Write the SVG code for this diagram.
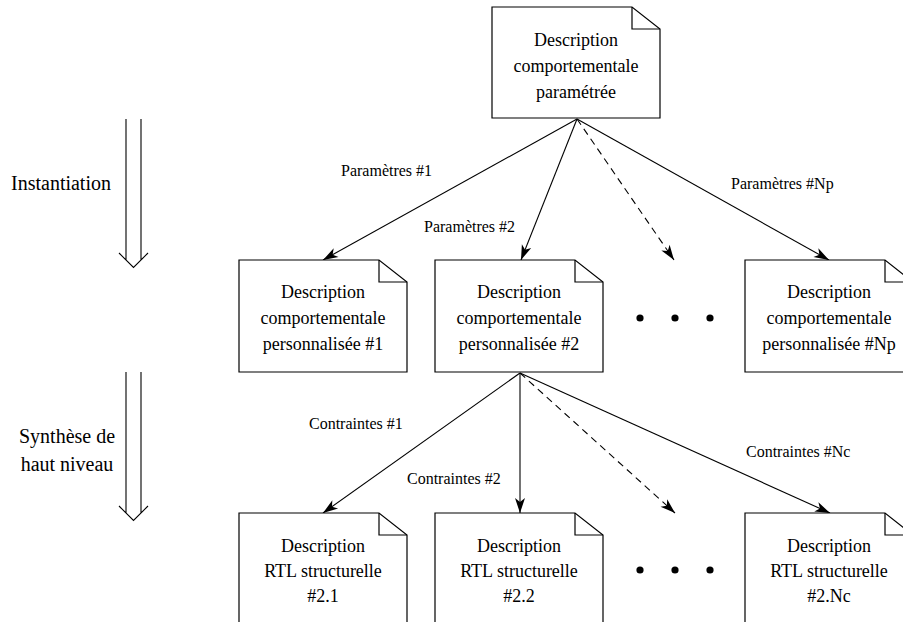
<svg xmlns="http://www.w3.org/2000/svg" width="903" height="622" viewBox="0 0 903 622">
<style>
.nd{fill:#fff;stroke:#000;stroke-width:1.2}
.fd{fill:none;stroke:#000;stroke-width:1.2}
.nt{font-family:"Liberation Serif","Times New Roman",serif;font-size:18px;text-anchor:middle;fill:#000}
.lb{font-family:"Liberation Serif","Times New Roman",serif;font-size:16px;fill:#000}
.side{font-family:"Liberation Serif","Times New Roman",serif;font-size:20px;text-anchor:middle;fill:#000}
.cn{fill:none;stroke:#000;stroke-width:1.1;marker-end:url(#ah)}
.dash{stroke-dasharray:7 5}
.big{fill:none;stroke:#000;stroke-width:1.1}
</style>
<defs>
<marker id="ah" viewBox="-16 -6 17 12" refX="0" refY="0" markerWidth="17" markerHeight="12" markerUnits="userSpaceOnUse" orient="auto">
<path d="M0,0 L-15,-5 L-11,0 L-15,5 Z" fill="#000"/>
</marker>
</defs>
<rect width="903" height="622" fill="#fff"/>

<g id="stage-arrows">
<g id="arrow-instantiation">
<path class="big" d="M126,119 V260 M141,119 V260 M119,253 L133.5,267.5 L148,253"/>
<text class="side" x="61" y="190">Instantiation</text>
</g>
<g id="arrow-synthese">
<path class="big" d="M126,372 V513 M141,372 V513 M119,506 L133.5,520.5 L148,506"/>
<text class="side" x="67" y="443">Synthèse de</text>
<text class="side" x="67" y="471">haut niveau</text>
</g>
</g>

<g id="connectors">
<line class="cn" x1="577" y1="119" x2="323" y2="260"/>
<line class="cn" x1="577" y1="119" x2="521" y2="260"/>
<line class="cn dash" x1="577" y1="119" x2="674" y2="260"/>
<line class="cn" x1="577" y1="119" x2="829" y2="260"/>
<line class="cn" x1="520" y1="373" x2="323" y2="513"/>
<line class="cn" x1="520" y1="373" x2="520" y2="513"/>
<line class="cn dash" x1="520" y1="373" x2="675" y2="513"/>
<line class="cn" x1="520" y1="373" x2="830" y2="513"/>
<text class="lb" x="341" y="176">Paramètres #1</text>
<text class="lb" x="424" y="232">Paramètres #2</text>
<text class="lb" x="731" y="189">Paramètres #Np</text>
<text class="lb" x="309" y="429">Contraintes #1</text>
<text class="lb" x="407" y="484">Contraintes #2</text>
<text class="lb" x="746" y="457">Contraintes #Nc</text>
</g>

<g id="n-top">
<path class="nd" d="M492,7 H632 L660,29 V118 H492 Z"/>
<path class="fd" d="M632,7 V29 H660"/>
<text class="nt" x="576" y="46">Description</text>
<text class="nt" x="576" y="72">comportementale</text>
<text class="nt" x="576" y="98">paramétrée</text>
</g>

<g id="n-p1">
<path class="nd" d="M239,260 H379 L407,282 V372 H239 Z"/>
<path class="fd" d="M379,260 V282 H407"/>
<text class="nt" x="323" y="298">Description</text>
<text class="nt" x="323" y="324">comportementale</text>
<text class="nt" x="323" y="350">personnalisée #1</text>
</g>

<g id="n-p2">
<path class="nd" d="M435,260 H575 L603,282 V372 H435 Z"/>
<path class="fd" d="M575,260 V282 H603"/>
<text class="nt" x="519" y="298">Description</text>
<text class="nt" x="519" y="324">comportementale</text>
<text class="nt" x="519" y="350">personnalisée #2</text>
</g>

<g id="dots-row2">
<circle cx="640" cy="318" r="3.6"/>
<circle cx="675" cy="318" r="3.6"/>
<circle cx="710" cy="318" r="3.6"/>
</g>

<g id="n-pNp">
<path class="nd" d="M745,260 H885 L913,282 V372 H745 Z"/>
<path class="fd" d="M885,260 V282 H913"/>
<text class="nt" x="829" y="298">Description</text>
<text class="nt" x="829" y="324">comportementale</text>
<text class="nt" x="829" y="350">personnalisée #Np</text>
</g>

<g id="n-r1">
<path class="nd" d="M239,513 H379 L407,535 V630 H239 Z"/>
<path class="fd" d="M379,513 V535 H407"/>
<text class="nt" x="323" y="552">Description</text>
<text class="nt" x="323" y="577">RTL structurelle</text>
<text class="nt" x="323" y="602">#2.1</text>
</g>

<g id="n-r2">
<path class="nd" d="M435,513 H575 L603,535 V630 H435 Z"/>
<path class="fd" d="M575,513 V535 H603"/>
<text class="nt" x="519" y="552">Description</text>
<text class="nt" x="519" y="577">RTL structurelle</text>
<text class="nt" x="519" y="602">#2.2</text>
</g>

<g id="dots-row3">
<circle cx="640" cy="570" r="3.6"/>
<circle cx="675" cy="570" r="3.6"/>
<circle cx="710" cy="570" r="3.6"/>
</g>

<g id="n-rNc">
<path class="nd" d="M745,513 H885 L913,535 V630 H745 Z"/>
<path class="fd" d="M885,513 V535 H913"/>
<text class="nt" x="829" y="552">Description</text>
<text class="nt" x="829" y="577">RTL structurelle</text>
<text class="nt" x="829" y="602">#2.Nc</text>
</g>
</svg>
